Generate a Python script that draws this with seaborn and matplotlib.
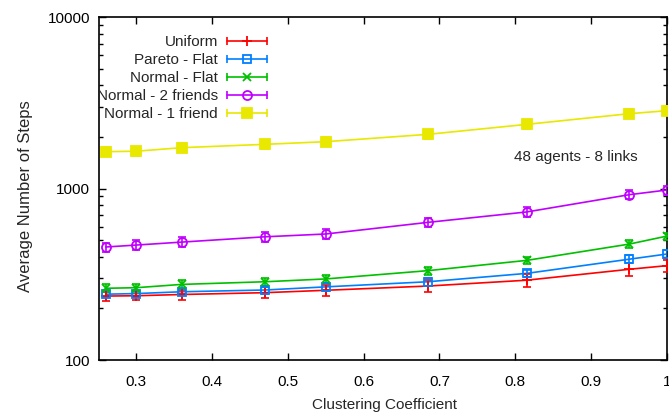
import numpy as np
import pandas as pd
import seaborn as sns
import matplotlib
matplotlib.use("Agg")
import matplotlib.pyplot as plt
from matplotlib.lines import Line2D
from matplotlib.legend_handler import HandlerLine2D, HandlerTuple
from matplotlib.ticker import LogLocator, NullFormatter, FixedLocator

# clustering coefficient values (x)
clustering = [0.26, 0.30, 0.36, 0.47, 0.55, 0.685, 0.815, 0.95, 1.0]

# average number of steps per configuration
uniform = [236, 237, 241, 247, 255, 270, 292, 338, 355]
pareto_flat = [242, 244, 250, 256, 267, 286, 320, 387, 415]
normal_flat = [262, 264, 276, 286, 297, 332, 381, 474, 528]
normal_2friends = [456, 468, 487, 523, 543, 635, 730, 920, 980]
normal_1friend = [1640, 1650, 1730, 1810, 1875, 2070, 2366, 2730, 2843]

# error bar half-widths
uniform_err = [14, 14, 16, 18, 20, 22, 25, 28, 30]
pareto_flat_err = [10, 10, 11, 12, 13, 15, 17, 20, 22]
normal_flat_err = [14, 14, 15, 16, 17, 18, 20, 24, 26]
normal_2friends_err = [28, 30, 32, 35, 36, 40, 45, 55, 60]
normal_1friend_err = [100, 100, 105, 110, 115, 125, 140, 160, 170]

series_names = ["Uniform", "Pareto - Flat", "Normal - Flat",
                "Normal - 2 friends", "Normal - 1 friend"]
series_vals = [uniform, pareto_flat, normal_flat, normal_2friends, normal_1friend]
series_errs = [uniform_err, pareto_flat_err, normal_flat_err,
               normal_2friends_err, normal_1friend_err]

colors = ["#ff0000", "#0080ff", "#00c000", "#c000ff", "#e8e800"]
markers = ["+", "s", "x", "o", "s"]
facecols = ["#ff0000", "none", "#00c000", "none", "#e8e800"]
msizes = [7, 5.5, 6, 6.5, 7]

sns.set_style("ticks")
plt.rcParams["font.family"] = ["Liberation Sans", "DejaVu Sans"]
plt.rcParams["font.size"] = 11

df = pd.DataFrame({
    "x": clustering * len(series_names),
    "y": sum(series_vals, []),
    "series": sum([[n] * len(clustering) for n in series_names], []),
})

fig = plt.figure(figsize=(6.69, 4.15), dpi=100)
ax = fig.add_axes([0.148, 0.1325, 0.849, 0.8265])

sns.lineplot(data=df, x="x", y="y", hue="series", hue_order=series_names,
             palette=colors, legend=False, ax=ax, linewidth=1.2, zorder=2)

handles = []
handler_map = {tuple: HandlerTuple(ndivide=1, pad=0.0)}
for name, vals, errs, c, m, fc, ms in zip(series_names, series_vals, series_errs,
                                          colors, markers, facecols, msizes):
    ax.errorbar(clustering, vals, yerr=errs, fmt="none", ecolor=c,
                elinewidth=1.2, capsize=3, capthick=1.2, zorder=3)
    ax.plot(clustering, vals, linestyle="none", marker=m, color=c,
            markerfacecolor=fc, markeredgecolor=c, markersize=ms,
            markeredgewidth=1.3, zorder=4)
    cap_line = Line2D([], [], color=c, linewidth=1.2, marker="|",
                      markersize=6, markeredgewidth=1.2)
    mark_line = Line2D([], [], linestyle="none", marker=m, color=c,
                       markerfacecolor=fc, markeredgecolor=c,
                       markersize=ms, markeredgewidth=1.3)
    handler_map[cap_line] = HandlerLine2D(numpoints=2, marker_pad=0.0)
    handler_map[mark_line] = HandlerLine2D(numpoints=1)
    handles.append((cap_line, mark_line))

ax.set_yscale("log")
ax.set_xlim(0.251, 1.0)
ax.set_ylim(100, 10000)
ax.xaxis.set_major_locator(FixedLocator([0.3, 0.4, 0.5, 0.6, 0.7, 0.8, 0.9, 1.0]))
ax.set_xticklabels(["0.3", "0.4", "0.5", "0.6", "0.7", "0.8", "0.9", "1"])
ax.yaxis.set_major_locator(FixedLocator([100, 1000, 10000]))
ax.set_yticklabels(["100", "1000", "10000"])
ax.yaxis.set_minor_locator(LogLocator(base=10, subs=np.arange(2, 10)))
ax.yaxis.set_minor_formatter(NullFormatter())

ax.tick_params(axis="both", which="both", direction="in", top=True, right=True,
               labelsize=11, colors="black", width=1.0)
ax.tick_params(axis="both", which="major", length=5)
ax.tick_params(axis="x", which="major", pad=11)
ax.tick_params(axis="y", which="major", pad=6.5)
ax.tick_params(axis="y", which="minor", length=3)
ax.tick_params(axis="x", which="minor", length=0)
for sp in ax.spines.values():
    sp.set_visible(True)
    sp.set_linewidth(1.2)
    sp.set_color("black")

ax.set_xlabel("Clustering Coefficient", fontsize=11)
ax.set_ylabel("Average Number of Steps", fontsize=12)
ax.xaxis.set_label_coords(0.5026, -0.111)
ax.yaxis.set_label_coords(-0.116, 0.478)

ax.text(0.949, 0.592, "48 agents - 8 links", transform=ax.transAxes,
        ha="right", va="center", fontsize=11)

ax.legend(handles, series_names, handler_map=handler_map, markerfirst=False,
          frameon=False, loc="upper right", bbox_to_anchor=(0.2958, 0.947),
          fontsize=11, handlelength=2.62, handletextpad=0.6, labelspacing=0.26,
          borderaxespad=0.0, borderpad=0.0)

fig.savefig("out.png", dpi=100)
